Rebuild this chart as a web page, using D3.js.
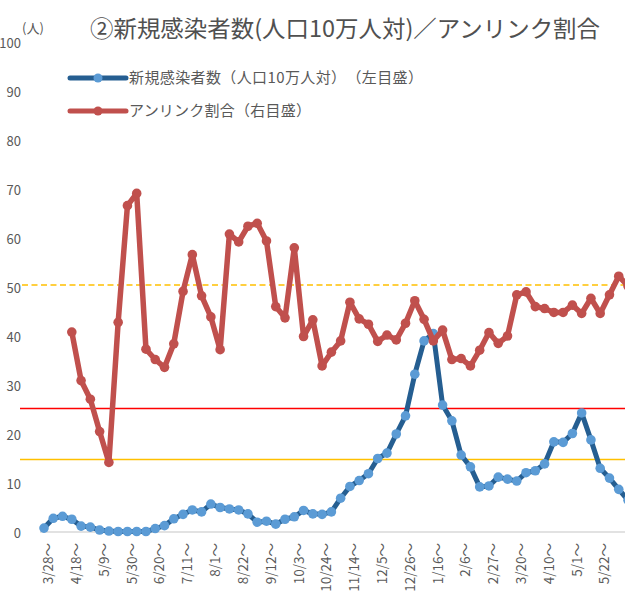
<!DOCTYPE html>
<html>
<head>
<meta charset="utf-8">
<script src="https://cdn.jsdelivr.net/npm/d3@7"></script>
<style>
  body { margin: 0; background: #fff; }
  svg { display: block; font-family: "Noto Sans CJK JP", "Noto Sans", sans-serif; text-spacing-trim: space-all; }
</style>
</head>
<body>
<svg id="chart" width="625" height="612"></svg>
<script>
// weekly values, week 0 = 3/28
const cases = [0.8, 2.8, 3.2, 2.6, 1.2, 1.0, 0.4, 0.2, 0.1, 0.1, 0.1, 0.1, 0.7, 1.3, 2.7, 3.6,
  4.5, 4.1, 5.7, 5.0, 4.7, 4.5, 3.7, 2.0, 2.2, 1.6, 2.6, 3.1, 4.4, 3.7, 3.6, 4.1,
  6.9, 9.3, 10.5, 11.9, 15.0, 16.1, 20.0, 23.7, 32.2, 39.0, 40.5, 25.9, 22.7, 15.7, 13.3, 9.2,
  9.4, 11.2, 10.8, 10.4, 12.1, 12.5, 13.9, 18.4, 18.3, 20.1, 24.3, 18.8, 13.0, 11.0, 8.7, 6.5];
const unlinked = [null, null, null, 40.8, 30.9, 27.1, 20.5, 14.2, 42.8, 66.6, 69.1, 37.3, 35.2, 33.6, 38.4, 49.1,
  56.6, 48.2, 43.9, 37.2, 60.8, 59.2, 62.4, 63.0, 59.4, 46.0, 43.7, 58.0, 39.9, 43.3, 33.9, 36.7,
  39.0, 46.9, 43.5, 42.4, 38.9, 40.2, 39.2, 42.6, 47.2, 43.4, 39.0, 41.2, 35.2, 35.4, 33.9, 37.1,
  40.7, 38.5, 40.0, 48.4, 49.0, 46.0, 45.6, 44.8, 44.8, 46.3, 44.6, 47.7, 44.6, 48.4, 52.2, 50.2];
const tickLabels = ['3/28～', '4/18～', '5/9～', '5/30～', '6/20～', '7/11～', '8/1～', '8/22～', '9/12～',
  '10/3～', '10/24～', '11/14～', '12/5～', '12/26～', '1/16～', '2/6～', '2/27～', '3/20～', '4/10～',
  '5/1～', '5/22～', '6/12～'];
const yTicks = [0, 10, 20, 30, 40, 50, 60, 70, 80, 90, 100];
const refLines = [
  { v: 50.4, color: '#FFC000', dash: '6,3.5', x0: 22 },
  { v: 25.2, color: '#FF0000', dash: null, x0: 20 },
  { v: 14.8, color: '#FFC000', dash: null, x0: 20 }
];
const title = '②新規感染者数(人口10万人対)／アンリンク割合';
const legendNames = ['新規感染者数（人口10万人対）（左目盛）', 'アンリンク割合（右目盛）'];

const svg = d3.select('#chart');
const x = d3.scaleLinear().domain([0, 60]).range([44, 600.2]);
const y = d3.scaleLinear().domain([0, 100]).range([532, 42]);
const yRight = d3.scaleLinear().domain([0, 100]).range([532, 42]);

// title
svg.append('text')
  .attr('x', 90).attr('y', 31)
  .attr('dominant-baseline', 'middle')
  .attr('font-size', 23)
  .attr('fill', '#505050')
  .attr('textLength', 510)
  .attr('lengthAdjust', 'spacingAndGlyphs')
  .text(title);

// y axis labels
svg.append('g').selectAll('text')
  .data(yTicks)
  .enter()
  .append('text')
  .attr('x', 21)
  .attr('y', d => y(d) + 1)
  .attr('dy', '0.35em')
  .attr('text-anchor', 'end')
  .attr('font-size', 13)
  .attr('fill', '#595959')
  .text(d => d);
svg.append('text')
  .attr('x', 22).attr('y', 33)
  .attr('font-size', 13)
  .attr('fill', '#595959')
  .text('(人)');

// baseline
svg.append('line')
  .attr('x1', 40).attr('x2', 625)
  .attr('y1', y(0)).attr('y2', y(0))
  .attr('stroke', '#D9D9D9').attr('stroke-width', 1.5);

// x labels, every 3 weeks
svg.append('g').selectAll('text')
  .data(tickLabels)
  .enter()
  .append('text')
  .attr('transform', (d, i) => 'translate(' + (x(i * 3) + 4.5) + ',543) rotate(-90)')
  .attr('dy', '0.35em')
  .attr('text-anchor', 'end')
  .attr('font-size', 13.5)
  .attr('fill', '#595959')
  .text(d => d);

// reference lines
svg.append('g').selectAll('line')
  .data(refLines)
  .enter()
  .append('line')
  .attr('x1', d => d.x0).attr('x2', 625)
  .attr('y1', d => y(d.v)).attr('y2', d => y(d.v))
  .attr('stroke', d => d.color)
  .attr('stroke-width', 1.5)
  .attr('stroke-dasharray', d => d.dash);

// blue series
const lineL = d3.line().defined(d => d !== null).x((d, i) => x(i)).y(d => y(d));
svg.append('path')
  .datum(cases)
  .attr('d', lineL)
  .attr('fill', 'none')
  .attr('stroke', '#255E91')
  .attr('stroke-width', 5)
  .attr('stroke-linejoin', 'round');
svg.append('g').selectAll('circle')
  .data(cases)
  .enter()
  .append('circle')
  .attr('cx', (d, i) => x(i))
  .attr('cy', d => y(d))
  .attr('r', 4.8)
  .attr('fill', '#5B9BD5');

// red series (right scale)
const lineR = d3.line().defined(d => d !== null).x((d, i) => x(i)).y(d => yRight(d));
svg.append('path')
  .datum(unlinked)
  .attr('d', lineR)
  .attr('fill', 'none')
  .attr('stroke', '#C0504D')
  .attr('stroke-width', 5.5)
  .attr('stroke-linejoin', 'round');
svg.append('g').selectAll('circle')
  .data(unlinked.map((d, i) => ({ d: d, i: i })).filter(o => o.d !== null))
  .enter()
  .append('circle')
  .attr('cx', o => x(o.i))
  .attr('cy', o => yRight(o.d))
  .attr('r', 4.8)
  .attr('fill', '#C0504D');

// legend
const legend = svg.append('g');
const legendColors = [['#255E91', '#5B9BD5'], ['#C0504D', '#C0504D']];
const legendWidths = [294, 182];
legendNames.forEach(function (name, i) {
  let ly = 78 + i * 33;
  legend.append('line')
    .attr('x1', 70).attr('x2', 126)
    .attr('y1', ly).attr('y2', ly)
    .attr('stroke', legendColors[i][0])
    .attr('stroke-width', 5)
    .attr('stroke-linecap', 'round');
  legend.append('circle')
    .attr('cx', 98).attr('cy', ly).attr('r', 4.5)
    .attr('fill', legendColors[i][1]);
  legend.append('text')
    .attr('x', 129).attr('y', ly)
    .attr('dy', '0.35em')
    .attr('font-size', 15)
    .attr('fill', '#595959')
    .attr('textLength', legendWidths[i])
    .attr('lengthAdjust', 'spacing')
    .text(name);
});
</script>
</body>
</html>
